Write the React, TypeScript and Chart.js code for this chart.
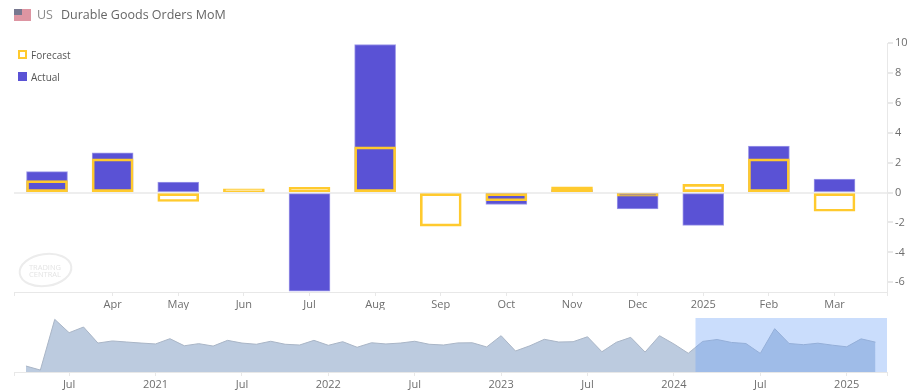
import React, { useEffect, useRef } from "react";
import { Chart, registerables } from "chart.js";

Chart.register(...registerables);

const monthLabels = ["", "Apr", "May", "Jun", "Jul", "Aug", "Sep", "Oct", "Nov", "Dec", "2025", "Feb", "Mar"];
const actualValues = [1.4, 2.65, 0.7, 0, -6.6, 9.9, 0, -0.8, 0.2, -1.1, -2.2, 3.1, 0.9];
const forecastValues = [0.8, 2.25, -0.6, 0.25, 0.35, 3.05, -2.25, -0.55, 0.38, -0.25, 0.55, 2.25, -1.25];
const yTickValues = [-6, -4, -2, 0, 2, 4, 6, 8, 10];

const historyValues = [
  -15, -17.7, 16.1, 7.2, 11, 0.3, 1.7, 1, 0.3, -0.3, 3.2, -1.5, -0.1, -1.7, 2.1, 0.3, -0.5, 1.5, -0.5, -1,
  2.1, -1.2, 1.2, -2.5, 0.5, -0.3, 0.3, 1.5, -0.5, -1, 0.4, 0.5, -2.3, 5.2, -5, -1.5, 2.8, 1, 1.2, 4.5,
  -5.5, 0.8, 4.1, -5.7, 5.2, -0.3, -6.5, 1.4, 2.65, 0.7, 0, -6.6, 9.9, 0, -0.8, 0.2, -1.1, -2.2, 3.1, 0.9,
];
const historyTickIndex = [3, 9, 15, 21, 27, 33, 39, 45, 51, 57];
const historyTickLabels = ["Jul", "2021", "Jul", "2022", "Jul", "2023", "Jul", "2024", "Jul", "2025"];

const FONT = "'Open Sans', sans-serif";
const AXIS = "#e8e8e8";
const TEXT = "#6e6e6e";
const X_MIN = -0.503;
const X_MAX = 12.8;
const HX_MIN = -0.83;
const HX_MAX = 59.8;
const WINDOW_START = 46.5;

const selectionPlugin = {
  id: "selection",
  afterDatasetsDraw(chart: any) {
    const { ctx, chartArea, scales } = chart;
    const x0 = scales.x.getPixelForValue(WINDOW_START);
    const x1 = scales.x.getPixelForValue(HX_MAX);
    ctx.save();
    ctx.fillStyle = "rgba(110,164,247,0.37)";
    ctx.fillRect(x0, chartArea.top, x1 - x0, chartArea.bottom - chartArea.top);
    ctx.restore();
  },
};

export default function App() {
  const mainRef = useRef<HTMLCanvasElement>(null);
  const navRef = useRef<HTMLCanvasElement>(null);

  useEffect(() => {
    const main = new Chart(mainRef.current!, {
      type: "bar",
      data: {
        datasets: [
          {
            label: "Forecast",
            data: forecastValues.map((y, x) => ({ x, y })),
            backgroundColor: "rgba(0,0,0,0)",
            borderColor: "#ffca2e",
            borderWidth: 2,
            borderSkipped: false,
            grouped: false,
            order: 1,
            barThickness: 41,
          },
          {
            label: "Actual",
            data: actualValues.map((y, x) => ({ x, y })),
            backgroundColor: "#5a52d5",
            borderColor: "#9d98e8",
            borderWidth: 1,
            borderSkipped: false,
            grouped: false,
            order: 2,
            barThickness: 41,
          },
        ],
      } as any,
      options: {
        animation: false,
        responsive: false,
        layout: { padding: { left: 14, top: 43, right: 0, bottom: 0 } },
        plugins: { legend: { display: false }, tooltip: { enabled: false } },
        scales: {
          x: {
            type: "linear",
            offset: false,
            min: X_MIN,
            max: X_MAX,
            afterBuildTicks(scale: any) {
              scale.ticks = [X_MIN, ...monthLabels.map((_, i) => i).slice(1), X_MAX].map((value) => ({ value }));
            },
            afterFit(scale: any) {
              scale.height = 18;
            },
            border: { color: AXIS },
            grid: { offset: false, drawOnChartArea: false, color: AXIS, tickLength: 4 },
            ticks: {
              autoSkip: false,
              maxRotation: 0,
              padding: 2,
              color: TEXT,
              font: { family: FONT, size: 11 },
              callback: (v: any) => monthLabels[v as number] ?? "",
            },
          },
          y: {
            type: "linear",
            position: "right",
            min: -6.65,
            max: 10,
            afterBuildTicks(scale: any) {
              scale.ticks = yTickValues.map((value) => ({ value }));
            },
            afterFit(scale: any) {
              scale.width = 27;
            },
            border: { color: AXIS },
            grid: {
              color: (c: any) => (c.tick && c.tick.value === 0 ? "#eeeeee" : "rgba(0,0,0,0)"),
              tickColor: AXIS,
              tickLength: 6,
              lineWidth: 2,
            },
            ticks: { padding: 2, color: TEXT, font: { family: FONT, size: 11 } },
          },
        },
      } as any,
    });

    const nav = new Chart(navRef.current!, {
      type: "line",
      data: {
        datasets: [
          {
            data: historyValues.map((y, x) => ({ x, y })),
            borderColor: "#a9b5c6",
            borderWidth: 1,
            backgroundColor: "#bccbdf",
            fill: "start",
            pointRadius: 0,
            tension: 0,
          },
        ],
      } as any,
      options: {
        animation: false,
        responsive: false,
        layout: { padding: { left: 14, top: 8, right: 27, bottom: 0 } },
        plugins: { legend: { display: false }, tooltip: { enabled: false } },
        scales: {
          x: {
            type: "linear",
            min: HX_MIN,
            max: HX_MAX,
            afterBuildTicks(scale: any) {
              scale.ticks = [HX_MIN, ...historyTickIndex, HX_MAX].map((value) => ({ value }));
            },
            afterFit(scale: any) {
              scale.height = 20;
            },
            border: { color: AXIS },
            grid: { drawOnChartArea: false, color: AXIS, tickLength: 4 },
            ticks: {
              autoSkip: false,
              maxRotation: 0,
              padding: 2,
              color: TEXT,
              font: { family: FONT, size: 11 },
              callback: (v: any) => {
                const i = historyTickIndex.indexOf(v as number);
                return i >= 0 ? historyTickLabels[i] : "";
              },
            },
          },
          y: { type: "linear", display: false, min: -19, max: 17 },
        },
      } as any,
      plugins: [selectionPlugin],
    });

    return () => {
      main.destroy();
      nav.destroy();
    };
  }, []);

  return (
    <div style={{ position: "fixed", left: 0, top: 0, width: 914, height: 392, background: "#fff", overflow: "hidden", fontFamily: FONT }}>
      <canvas ref={mainRef} width={914} height={310} style={{ position: "absolute", left: 0, top: 0 }} />
      <canvas ref={navRef} width={914} height={82} style={{ position: "absolute", left: 0, top: 310 }} />

      <svg width={17} height={12} style={{ position: "absolute", left: 14, top: 9 }}>
        <rect width={17} height={12} fill="#dd95a2" />
        <rect width={8} height={6} fill="#77778f" />
      </svg>
      <div style={{ position: "absolute", left: 37, top: 5, fontSize: 12.5, lineHeight: "20px", color: "#8a8a8a" }}>US</div>
      <div style={{ position: "absolute", left: 61, top: 5, fontSize: 12.5, lineHeight: "20px", color: "#666" }}>Durable Goods Orders MoM</div>

      <div style={{ position: "absolute", left: 18, top: 50, width: 5, height: 5, border: "2px solid #ffca2e" }} />
      <div style={{ position: "absolute", left: 31, top: 47, fontSize: 10, lineHeight: "16px", color: "#555" }}>Forecast</div>
      <div style={{ position: "absolute", left: 18, top: 72, width: 9, height: 9, background: "#5a52d5" }} />
      <div style={{ position: "absolute", left: 31, top: 69, fontSize: 10, lineHeight: "16px", color: "#555" }}>Actual</div>

      <svg width={60} height={40} style={{ position: "absolute", left: 16, top: 251 }}>
        <ellipse cx={29.5} cy={19} rx={26} ry={16} transform="rotate(-8 29.5 19)" fill="none" stroke="#ececec" strokeWidth={2} />
        <text x={29} y={19} textAnchor="middle" fontSize={7.5} fill="#e4e4e4" fontFamily={FONT}>TRADING</text>
        <text x={29} y={26} textAnchor="middle" fontSize={7.5} fill="#e4e4e4" fontFamily={FONT}>CENTRAL</text>
      </svg>
    </div>
  );
}
